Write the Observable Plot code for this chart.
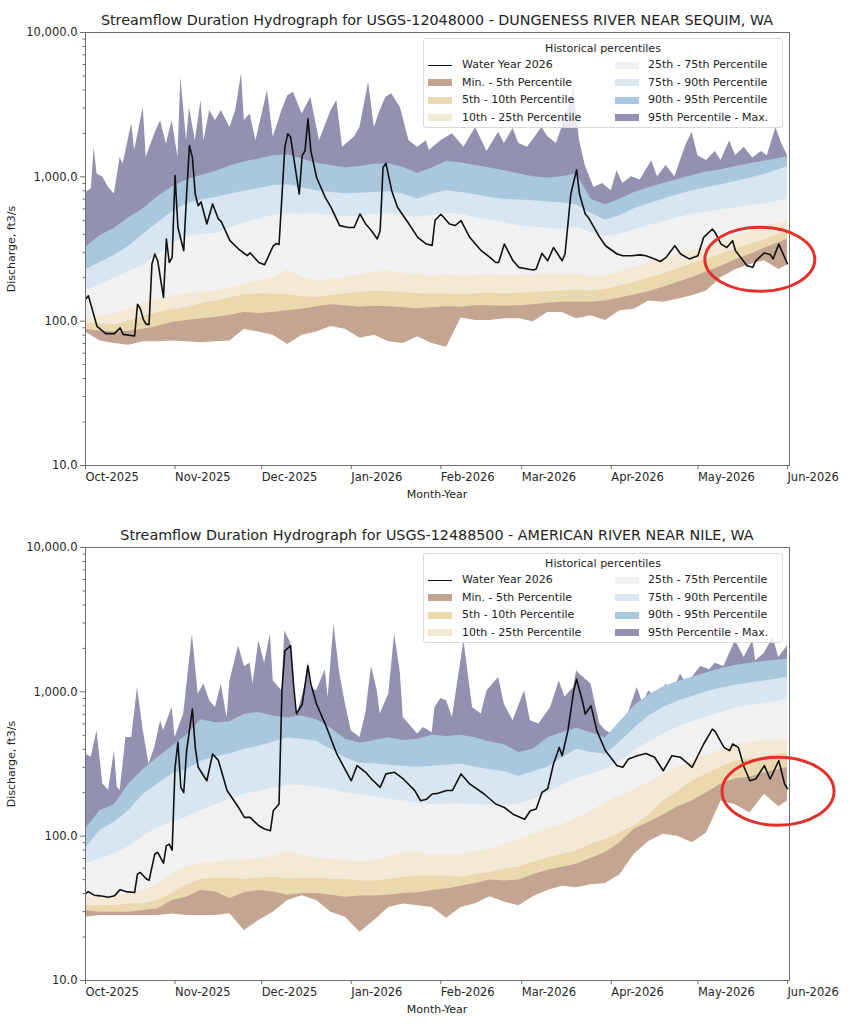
<!DOCTYPE html>
<html>
<head>
<meta charset="utf-8">
<script src="https://cdn.jsdelivr.net/npm/d3@7"></script>
<script src="https://cdn.jsdelivr.net/npm/@observablehq/plot@0.6"></script>
<style>
  body { margin: 0; background: #fff; font-family: "DejaVu Sans", sans-serif; }
  #page { position: relative; width: 854px; height: 1024px; overflow: hidden; background: #fff; }
  #page svg { position: absolute; left: 0; display: block; }
  .title { position: absolute; left: 0; width: 874px; text-align: center; font-size: 14.3px; line-height: 18px; color: #222; white-space: nowrap; }
  .ylabel { position: absolute; width: 200px; text-align: center; font-size: 11px; line-height: 14px; color: #222; transform: rotate(-90deg); white-space: nowrap; }
  .xlabel { position: absolute; width: 200px; text-align: center; font-size: 11px; line-height: 14px; color: #222; white-space: nowrap; }
  .legend { position: absolute; left: 423px; width: 360px; height: 90px; box-sizing: border-box; background: rgba(255,255,255,0.8); border: 1px solid #d9d9d9; border-radius: 3px; font-size: 11px; color: #222; }
  .legend div { position: absolute; white-space: nowrap; line-height: 14px; }
  .legend .swatch { width: 24px; height: 7px; }
  .legend .stroke { width: 24px; height: 0; border-top: 1.6px solid #111; }
</style>
</head>
<body>
<div id="page"></div>
<script>
// Days counted from the start of the water year (2025-10-01).
const gridDays = [0,5,10,15,20,25,30,35,40,45, 50,55,60,65,70,75,80,85,90,95,
  100,105,110,115,120,125,130,135,140,145, 150,155,160,165,170,175,180,185,190,195,
  200,205,210,215,220,225,230,235,240,243];

// ---- USGS-12048000 Dungeness River near Sequim, WA (ft3/s) ----
const dungenessMin = [84,73,70,68,72,72,73,72,71,72, 73,88,84,80,69,80,84,92,88,76,
  80,72,70,78,70,66,105,101,101,104, 104,99,115,115,104,109,101,118,121,138,
  135,142,150,162,200,227,246,262,228,245];
const dungenessP05 = [88,85,84,85,88,92,98,101,104,106, 110,115,113,115,118,121,126,130,128,125,
  127,126,124,122,124,126,125,128,128,127, 128,130,133,135,136,135,138,145,152,160,
  172,185,200,220,240,265,290,320,350,370];
const dungenessP10 = [97,96,95,100,108,115,120,125,132,138, 145,152,155,154,152,148,146,150,154,158,
  162,160,158,155,154,154,152,155,156,154, 156,158,160,162,164,162,166,175,185,198,
  212,230,250,270,290,315,340,365,400,420];
const dungenessP25 = [106,108,112,122,133,142,150,155,158,162, 170,180,190,200,225,200,190,195,200,210,
  218,222,215,212,205,210,205,208,210,206, 208,210,212,210,212,205,205,220,235,250,
  268,290,310,330,355,385,420,450,480,500];
const dungenessP75 = [162,180,198,220,245,290,340,388,398,405, 440,480,510,540,555,550,553,540,528,535,
  550,553,540,525,540,560,550,520,500,480, 460,450,440,430,450,410,385,400,430,460,
  490,520,550,570,590,610,630,650,680,700];
const dungenessP90 = [226,255,285,330,400,480,570,650,690,718, 760,795,830,870,880,840,800,780,765,770,
  780,790,760,700,760,800,780,750,720,700, 690,684,670,660,640,560,500,540,600,650,
  700,750,800,840,880,930,980,1040,1120,1180];
const dungenessP95 = [324,390,440,520,600,730,850,950,1020,1090, 1190,1270,1330,1400,1420,1330,1240,1200,1150,1180,
  1220,1230,1160,1060,1150,1280,1250,1200,1150,1100, 1050,1000,980,1000,1050,700,640,700,780,840,
  900,960,1020,1080,1120,1180,1230,1280,1340,1380];
const dungenessMaxDays = [0,2,3,4,6,8,10,12,13,16,17,20,21,24,26,28,30,32,33,35,36,38,40,41,43,45,47,50,52,54,55,57,59,63,65,68,70,72,75,78,81,85,87,89,93,95,98,100,102,104,106,109,112,115,118,119,123,127,131,135,139,143,145,148,150,153,158,160,163,167,169,171,173,176,179,182,184,186,189,192,196,198,201,204,208,210,212,215,218,220,223,225,228,231,234,236,239,241,243];
const dungenessMax = [780,824,1594,1047,993,845,761,1365,1228,2340,1520,3020,1365,1985,2450,1690,2455,1365,4900,1780,3020,1780,3375,1780,2880,2455,2880,2200,2880,5170,2455,2730,1780,3960,1880,2880,3640,3860,2730,3560,1780,2880,3375,1600,1880,2200,4520,2200,2880,3560,3760,3020,1780,1600,1780,1520,1780,1985,1600,2200,1500,2040,1700,2160,1700,1600,2200,1900,1700,2880,4150,1800,1200,845,900,800,1100,900,1000,950,1295,1000,1200,1000,1690,2037,1400,1300,1500,1300,1780,1400,1600,1350,1500,1400,2200,1700,1400];
const dungenessWYDays = [0,1,4,7,10,12,13,17,18,19,20,21,22,23,24,25,27,28,29,30,31,32,34,35,36,37,38,39,40,42,44,46,47,50,53,54,56,57,60,62,65,66,67,69,70,71,74,75,76,77,78,80,83,85,88,91,93,95,97,99,101,102,103,104,106,108,112,115,118,120,121,123,124,126,128,130,133,137,140,142,143,145,148,150,153,155,156,158,160,162,165,166,168,170,171,173,174,178,180,184,186,189,192,194,197,199,201,204,206,209,212,214,217,218,220,222,224,225,229,231,232,235,237,238,240,242,243];
const dungenessWY = [142,150,92,82,82,90,81,79,131,122,103,95,95,249,292,262,146,371,255,277,1020,446,308,760,1645,1365,760,631,670,471,649,511,490,361,316,305,284,297,255,246,333,345,340,1600,1985,1880,760,1404,1520,2520,1520,990,721,615,459,446,446,553,471,423,371,423,1164,1240,802,615,471,381,342,335,500,550,525,471,460,497,381,308,277,255,255,342,262,236,230,226,230,295,262,324,262,292,760,1117,760,553,525,381,333,292,284,284,288,284,270,259,277,333,292,270,284,381,435,410,342,324,361,308,242,236,262,297,290,270,342,277,250];

// ---- USGS-12488500 American River near Nile, WA (ft3/s) ----
const americanMin = [27.4,28.2,28.2,28.2,28.2,28.2,28.9,28.2,28.2,28.2, 29,22.2,26,29.7,35.8,38.7,35.8,29.7,27.4,21.6,
  26,32,33.9,33,32,27,32,34,38,35, 33,38,42,45,44,46,47,54,75,92,
  103,100,90,105,175,165,145,195,160,175];
const americanP05 = [30.5,29.7,29.7,29.7,30.5,31.3,35.8,37.8,42,41, 37,40.5,42,41,39,40,40,39,37.8,38.5,
  38.5,39,40,40.5,42,43,45,47,49.6,49, 49.6,54,58,61,64,70,77,90,112,125,
  140,160,175,200,230,250,256,275,290,300];
const americanP10 = [33,33,33,34,34,35.8,40,46,50,51, 51,50,51,52,50,51,51,50,50,49,
  49,50,52,53,53,53,52,54,56,59, 61,66,71,75,79,88,95,105,118,140,
  175,205,240,270,300,330,342,355,368,375];
const americanP25 = [37.8,38,39,40,42,46,55,62,65,66, 67,68,70,72,78,73,70,69,68,66,
  67,72,76,78,74,74,75,78,81,88, 95,103,112,120,132,148,170,190,210,235,
  265,300,330,360,395,435,445,455,465,470];
const americanP75 = [64,70,75,85,100,115,125,135,150,165, 180,195,205,215,225,225,218,210,200,194,
  188,180,176,170,166,167,167,165,164,163, 167,180,200,225,250,270,290,330,390,450,
  510,570,620,670,720,770,800,830,860,885];
const americanP90 = [82,110,125,150,195,230,270,290,330,355, 371,400,420,450,480,470,455,400,350,320,
  318,310,305,300,305,310,316,300,290,280, 260,280,300,350,400,380,370,450,560,680,
  780,860,930,1000,1060,1110,1150,1190,1230,1260];
const americanP95 = [112,150,165,230,290,350,420,500,640,610, 620,700,720,680,660,680,640,560,470,440,
  460,480,460,470,500,490,500,480,450,430, 380,400,480,520,560,520,480,620,800,950,
  1080,1180,1260,1350,1450,1520,1580,1620,1660,1680];
const americanMaxDays = [0,2,4,6,8,10,11,12,14,16,18,20,22,24,26,27,30,31,34,37,39,41,43,45,47,49,50,53,55,57,58,60,62,64,65,68,69,70,71,73,76,77,78,80,83,84,86,88,90,92,95,97,99,101,102,105,107,109,110,113,115,117,120,121,123,125,127,131,134,137,139,143,145,148,152,154,157,161,164,166,169,170,171,175,178,180,183,185,188,191,193,195,198,201,203,206,208,210,213,216,218,221,223,225,228,231,232,235,238,240,243];
const americanMax = [371,352,538,230,207,391,218,207,483,483,1073,538,316,412,631,538,780,483,702,2512,966,1132,867,780,1132,660,1190,2084,1496,1575,1132,2257,1575,2512,1190,1018,2649,2400,2200,665,1100,1600,1073,1018,1425,918,2944,1350,820,538,483,702,1496,1018,702,966,2512,1350,665,567,510,567,520,780,900,867,665,2257,780,702,1018,1259,820,631,1018,631,598,780,1190,920,1073,1400,1330,1132,600,540,500,560,720,1073,820,1018,867,1132,966,1330,1132,1259,1496,1425,1575,1496,1850,2257,1730,2257,1640,1850,2380,1730,2084];
const americanWYDays = [0,1,3,5,8,10,12,14,17,18,19,21,22,24,25,27,28,29,30,31,32,33,34,35,37,38,39,42,44,46,49,53,55,57,60,62,64,65,67,68,69,71,72,73,75,77,78,80,83,87,92,94,97,99,102,104,107,110,114,116,118,120,122,125,127,130,133,138,142,145,148,152,154,156,158,160,162,164,165,167,169,170,172,173,175,177,180,184,186,188,191,194,197,200,203,206,210,214,217,218,221,223,224,226,228,230,232,235,237,240,242,243];
const americanWY = [40,41.3,39,38.6,37.7,38.6,42.6,41.3,40.7,54.7,56,50.7,49.4,75.3,77.3,65,86,88,80,300,447,218,200,391,760,412,300,242,371,335,207,158,135,135,118,112,109,150,167,1018,1925,2090,1132,702,820,1515,1132,820,598,371,242,308,277,249,218,270,277,249,207,176,180,196,198,207,207,270,230,196,167,158,142,131,150,154,201,213,316,412,361,538,1018,1225,867,702,800,538,391,308,300,343,361,374,352,284,361,352,300,435,552,530,412,391,435,412,300,242,249,308,249,334,230,213];

// Legend entries: label and fill (null marks the line entry)
const legendLabels = ["Water Year 2026", "Min. - 5th Percentile", "5th - 10th Percentile", "10th - 25th Percentile",
  "25th - 75th Percentile", "75th - 90th Percentile", "90th - 95th Percentile", "95th Percentile - Max."];
const bandColors = {
  minP05: "#c3a591", p05p10: "#ead8ae", p10p25: "#f3e9d5", p25p75: "#f1f1f1",
  p75p90: "#d7e6f0", p90p95: "#a9c7dd", p95max: "#9291b2"
};
const legendColors = [null, bandColors.minP05, bandColors.p05p10, bandColors.p10p25,
  bandColors.p25p75, bandColors.p75p90, bandColors.p90p95, bandColors.p95max];

const monthTickLabels = d3.utcFormat("%b-%Y");
const majorTicks = [10, 100, 1000, 10000];
const minorTicks = [20,30,40,50,60,70,80,90,200,300,400,500,600,700,800,900,2000,3000,4000,5000,6000,7000,8000,9000];

const START = Date.UTC(2025, 9, 1);
const toDate = d => new Date(START + d * 864e5);
const xDomain = [toDate(0), toDate(243.7)];
const monthTicks = d3.utcMonth.range(toDate(0), toDate(244));

const panels = [
  {
    title: "Streamflow Duration Hydrograph for USGS-12048000 - DUNGENESS RIVER NEAR SEQUIM, WA",
    top: 0, height: 510, marginTop: 32, marginBottom: 45,
    min: dungenessMin, p05: dungenessP05, p10: dungenessP10, p25: dungenessP25,
    p75: dungenessP75, p90: dungenessP90, p95: dungenessP95,
    maxDays: dungenessMaxDays, max: dungenessMax, wyDays: dungenessWYDays, wy: dungenessWY,
    ring: { day: 233.6, value: 266, rx: 55, ry: 32 }
  },
  {
    title: "Streamflow Duration Hydrograph for USGS-12488500 - AMERICAN RIVER NEAR NILE, WA",
    top: 510, height: 514, marginTop: 37, marginBottom: 44,
    min: americanMin, p05: americanP05, p10: americanP10, p25: americanP25,
    p75: americanP75, p90: americanP90, p95: americanP95,
    maxDays: americanMaxDays, max: americanMax, wyDays: americanWYDays, wy: americanWY,
    ring: { day: 239.9, value: 203, rx: 56, ry: 34 }
  }
];

const page = document.getElementById("page");
const MARGIN_LEFT = 85, MARGIN_RIGHT = 65, WIDTH = 854;

function series(days, values) {
  return days.map((d, i) => ({ date: toDate(d), value: values[i] }));
}

// Each envelope is painted from the axis floor upward, widest first,
// so every percentile band ends up showing between its two limits.
function envelope(rows, fill) {
  return Plot.areaY(rows, { x: "date", y1: 10, y2: "value", fill, curve: "linear", clip: true });
}

panels.forEach(p => {
  const svg = Plot.plot({
    width: WIDTH,
    height: p.height,
    marginLeft: MARGIN_LEFT,
    marginRight: MARGIN_RIGHT,
    marginTop: p.marginTop,
    marginBottom: p.marginBottom,
    style: { fontFamily: "DejaVu Sans, sans-serif", fontSize: "11.5px", color: "#262626", background: "transparent", overflow: "visible" },
    x: { type: "utc", domain: xDomain },
    y: { type: "log", domain: [10, 10000] },
    marks: [
      envelope(series(p.maxDays, p.max), bandColors.p95max),
      envelope(series(gridDays, p.p95), bandColors.p90p95),
      envelope(series(gridDays, p.p90), bandColors.p75p90),
      envelope(series(gridDays, p.p75), bandColors.p25p75),
      envelope(series(gridDays, p.p25), bandColors.p10p25),
      envelope(series(gridDays, p.p10), bandColors.p05p10),
      envelope(series(gridDays, p.p05), bandColors.minP05),
      envelope(series(gridDays, p.min), "#ffffff"),
      Plot.lineY(series(p.wyDays, p.wy), { x: "date", y: "value", stroke: "#111", strokeWidth: 1.6, clip: true }),
      Plot.frame({ stroke: "#6e6e6e", strokeWidth: 1 }),
      Plot.axisY(majorTicks, { tickFormat: d3.format(",.1f"), tickSize: 5, tickPadding: 3, stroke: "#6e6e6e", label: null }),
      Plot.axisY(minorTicks, { tickFormat: () => "", tickSize: 2.5, stroke: "#6e6e6e", label: null }),
      Plot.axisX(monthTicks, { tickFormat: monthTickLabels, textAnchor: "start", tickSize: 4, tickPadding: 3, stroke: "#6e6e6e", label: null })
    ]
  });
  svg.style.top = p.top + "px";
  page.appendChild(svg);

  // red ring drawn over the most recent weeks
  const frameTop = p.marginTop, frameBottom = p.height - p.marginBottom;
  const sx = d3.scaleUtc(xDomain, [MARGIN_LEFT, WIDTH - MARGIN_RIGHT]);
  const sy = d3.scaleLog([10, 10000], [frameBottom, frameTop]);
  d3.select(svg).append("ellipse")
    .attr("cx", sx(toDate(p.ring.day)))
    .attr("cy", sy(p.ring.value))
    .attr("rx", p.ring.rx).attr("ry", p.ring.ry)
    .attr("fill", "none").attr("stroke", "#e3302a").attr("stroke-width", 3);

  const plotCenterX = (MARGIN_LEFT + WIDTH - MARGIN_RIGHT) / 2;
  const frameMidY = p.top + (frameTop + frameBottom) / 2;

  const title = document.createElement("div");
  title.className = "title";
  title.textContent = p.title;
  title.style.left = (plotCenterX - 437) + "px";
  title.style.top = (p.top + frameTop - 21) + "px";
  page.appendChild(title);

  const ylab = document.createElement("div");
  ylab.className = "ylabel";
  ylab.textContent = "Discharge, ft3/s";
  ylab.style.left = (12 - 100) + "px";
  ylab.style.top = (frameMidY - 7) + "px";
  page.appendChild(ylab);

  const xlab = document.createElement("div");
  xlab.className = "xlabel";
  xlab.textContent = "Month-Year";
  xlab.style.left = (plotCenterX - 100) + "px";
  xlab.style.top = (p.top + frameBottom + 23) + "px";
  page.appendChild(xlab);

  // legend box inside the upper right of the frame
  const box = document.createElement("div");
  box.className = "legend";
  box.style.top = (p.top + frameTop + 6) + "px";
  const head = document.createElement("div");
  head.textContent = "Historical percentiles";
  head.style.left = "0px"; head.style.width = "358px"; head.style.textAlign = "center"; head.style.top = "2.5px";
  box.appendChild(head);
  const rowY = [27, 44.5, 62, 79.5];
  legendLabels.forEach((label, i) => {
    const col = i < 4 ? 0 : 1, row = i % 4;
    const hx = col === 0 ? 4 : 191;
    const tx = col === 0 ? 38 : 224;
    const handle = document.createElement("div");
    if (legendColors[i] === null) {
      handle.className = "stroke";
      handle.style.top = (rowY[row] - 1) + "px";
    } else {
      handle.className = "swatch";
      handle.style.background = legendColors[i];
      handle.style.top = (rowY[row] - 4.5) + "px";
    }
    handle.style.left = hx + "px";
    box.appendChild(handle);
    const text = document.createElement("div");
    text.textContent = label;
    text.style.left = tx + "px";
    text.style.top = (rowY[row] - 8) + "px";
    box.appendChild(text);
  });
  page.appendChild(box);
});
</script>
</body>
</html>
